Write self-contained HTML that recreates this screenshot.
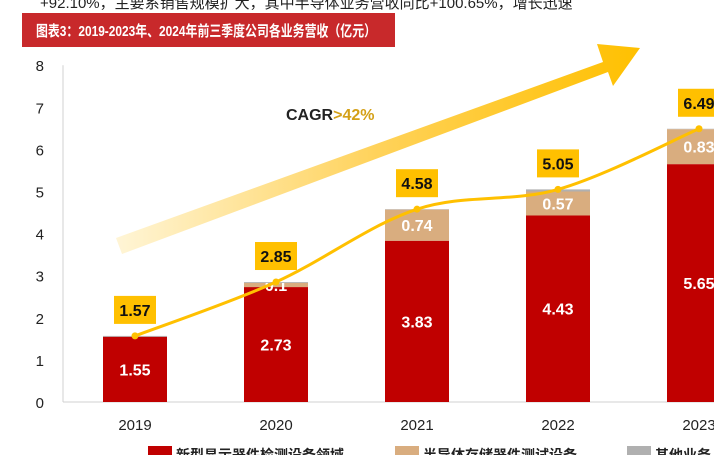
<!DOCTYPE html>
<html><head><meta charset="utf-8"><style>
body{margin:0;width:714px;height:455px;overflow:hidden;background:#fff;font-family:"Liberation Sans","Noto Sans CJK SC",sans-serif;}
</style></head><body>
<svg width="714" height="455" xmlns="http://www.w3.org/2000/svg">
<defs><linearGradient id="ag" x1="0" y1="0" x2="1" y2="0"><stop offset="0" stop-color="#fff5d6"/><stop offset="0.5" stop-color="#ffd25a"/><stop offset="1" stop-color="#ffc000"/></linearGradient></defs>
<text x="40" y="8" font-size="15" fill="#222">+92.10%，主要系销售规模扩大，其中半导体业务营收同比+100.65%，增长迅速</text>
<rect x="22" y="13" width="373" height="34" fill="#c8292b"/>
<text x="36" y="36" font-size="15" font-weight="bold" fill="#fff" textLength="340" lengthAdjust="spacingAndGlyphs">图表3：2019-2023年、2024年前三季度公司各业务营收（亿元）</text>
<g id="axes"></g><g id="arrow"></g><g id="bars"></g><g id="line"></g>
<text x="286" y="120" font-size="16" font-weight="bold" fill="#222">CAGR<tspan fill="#d4a017">&gt;42%</tspan></text>
<g id="legend" font-size="14" font-weight="bold" fill="#222">
<rect x="148" y="446" width="24" height="10" fill="#c00000"/>
<text x="176" y="460">新型显示器件检测设备领域</text>
<rect x="395" y="446" width="24" height="10" fill="#d9ad7f"/>
<text x="423" y="460">半导体存储器件测试设备</text>
<rect x="627" y="446" width="24" height="10" fill="#b0b0b0"/>
<text x="655" y="460">其他业务</text>
</g>
</svg>
<script>
const categories=["2019","2020","2021","2022","2023"];
const display=[1.55,2.73,3.83,4.43,5.65];
const semi=[0,0.1,0.74,0.57,0.83];
const other=[0.02,0.02,0.01,0.05,0.01];
const totals=[1.57,2.85,4.58,5.05,6.49];
const yTicks=[0,1,2,3,4,5,6,7,8];
const NS="http://www.w3.org/2000/svg";
const y0=402,unit=42.1,x0=135,step=141,bw=64;
const y=v=>y0-v*unit, x=i=>x0+i*step;
function mk(p,t,a){const e=document.createElementNS(NS,t);for(const k in a)e.setAttribute(k,a[k]);document.getElementById(p).appendChild(e);return e;}
let e=mk("axes","line",{x1:63,y1:y0,x2:714,y2:y0,stroke:"#d0d0d0"});


e=mk("axes","line",{x1:63,y1:y(8),x2:63,y2:y0,stroke:"#d0d0d0"});


yTicks.forEach(t=>{const el=mk("axes","text",{x:44,y:y(t)+6,"font-size":15,"text-anchor":"end",fill:"#222"});el.textContent=t;

});
categories.forEach((c,i)=>{const el=mk("axes","text",{x:x(i),y:430,"font-size":15,"text-anchor":"middle",fill:"#222"});el.textContent=c;

});
e=mk("arrow","polygon",{points:"116,238 603,62 597,44 640,48 613,86 608,72 122,254",fill:"url(#ag)"});


categories.forEach((c,i)=>{
 let base=0;
 [[display,"#c00000"],[semi,"#d9ad7f"],[other,"#b0b0b0"]].forEach(([arr,col],k)=>{
  const v=arr[i];if(v<=0)return;
  const r=mk("bars","rect",{x:x(i)-bw/2,y:y(base+v),width:bw,height:v*unit,fill:col});
  
  
  if(k<2){const t=mk("bars","text",{x:x(i),y:y(base+v/2)+6,"font-size":16,"font-weight":"bold","text-anchor":"middle",fill:"#fff"});t.textContent=v;
  
  }
  base+=v;});
});
const pts=totals.map((v,i)=>[x(i),y(v)]);
let d="M"+pts[0];
for(let i=1;i<pts.length;i++){const p0=pts[Math.max(i-2,0)],p1=pts[i-1],p2=pts[i],p3=pts[Math.min(i+1,pts.length-1)];
 const c1=[p1[0]+(p2[0]-p0[0])/6,p1[1]+(p2[1]-p0[1])/6],c2=[p2[0]-(p3[0]-p1[0])/6,p2[1]-(p3[1]-p1[1])/6];
 d+=` C${c1} ${c2} ${p2}`;}
e=mk("line","path",{d:d,fill:"none",stroke:"#ffc000","stroke-width":3});


pts.forEach((p,i)=>{
 const c=mk("line","circle",{cx:p[0],cy:p[1],r:3.5,fill:"#ffc000"});
 
 
 const b=mk("line","rect",{x:p[0]-21,y:p[1]-40,width:42,height:28,fill:"#ffc000"});
 
 
 const t=mk("line","text",{x:p[0],y:p[1]-20,"font-size":16,"font-weight":"bold","text-anchor":"middle",fill:"#111"});t.textContent=totals[i].toFixed(2);
 
 
});
</script>
</body></html>
